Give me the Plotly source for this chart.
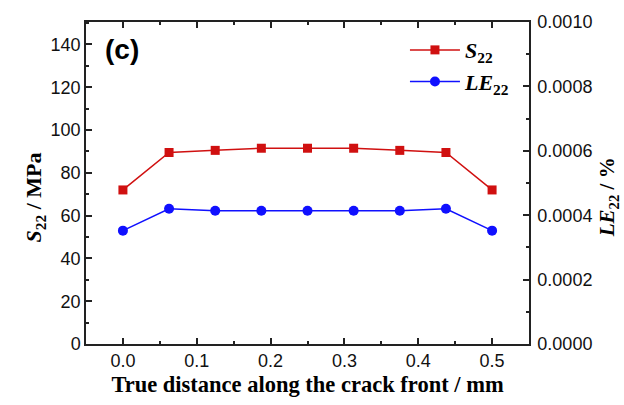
import plotly.graph_objects as go

# Distance along the crack front (mm)
distance = [0.0, 0.0625, 0.125, 0.1875, 0.25, 0.3125, 0.375, 0.4375, 0.5]
# Opening stress S22 (MPa)
s22 = [72, 89.5, 90.5, 91.5, 91.5, 91.5, 90.5, 89.5, 72]
# Logarithmic strain LE22 (%)
le22 = [0.000352, 0.000420, 0.000414, 0.000414, 0.000414, 0.000414, 0.000414, 0.000420, 0.000352]

x_ticks = [0.0, 0.1, 0.2, 0.3, 0.4, 0.5]
y1_ticks = [0, 20, 40, 60, 80, 100, 120, 140]
y2_ticks = [0.0, 0.0002, 0.0004, 0.0006, 0.0008, 0.0010]

RED = "#d01010"
BLUE = "#1010ff"
AX = "#222222"
TICKFONT = dict(family="Liberation Sans, Arial", size=18, color="#111111")
SERIF = "Liberation Serif, Times New Roman"

fig = go.Figure()
fig.add_trace(go.Scatter(
    x=distance, y=s22, mode="lines+markers",
    name="<b><i>S</i><sub>22</sub></b>",
    line=dict(color=RED, width=1.5),
    marker=dict(symbol="square", size=9, color=RED),
    yaxis="y",
))
fig.add_trace(go.Scatter(
    x=distance, y=le22, mode="lines+markers",
    name="<b><i>LE</i><sub>22</sub></b>",
    line=dict(color=BLUE, width=1.5),
    marker=dict(symbol="circle", size=10, color=BLUE),
    yaxis="y2",
))

common = dict(showline=True, linecolor=AX, linewidth=1.5, ticks="inside",
              tickcolor=AX, tickwidth=1.5, ticklen=6, showgrid=False,
              zeroline=False, tickfont=TICKFONT)

fig.update_layout(
    width=624, height=405,
    margin=dict(l=86, r=95, t=18, b=60),
    paper_bgcolor="white", plot_bgcolor="white",
    showlegend=True,
    legend=dict(x=0.72, y=0.978, xanchor="left", yanchor="top",
                font=dict(family=SERIF, size=22, color="#000000"),
                bgcolor="rgba(0,0,0,0)", itemwidth=50),
    xaxis=dict(range=[-0.05, 0.55], tickvals=x_ticks,
               ticktext=[f"{v:.1f}" for v in x_ticks], mirror="ticks",
               minor=dict(dtick=0.05, ticks="inside", ticklen=3, tickcolor=AX, tickwidth=1.5),
               title=dict(text="<b>True distance along the crack front / mm</b>",
                          font=dict(family=SERIF, size=22.5, color="#000000"), standoff=6),
               **common),
    yaxis=dict(range=[0, 150.5], tickvals=y1_ticks,
               minor=dict(dtick=10, ticks="inside", ticklen=3, tickcolor=AX, tickwidth=1.5),
               **common),
    yaxis2=dict(range=[0, 0.001], overlaying="y", side="right", tickvals=y2_ticks,
                ticktext=[f"{v:.4f}" for v in y2_ticks], ticklabelstandoff=3,
                minor=dict(dtick=0.0001, ticks="inside", ticklen=3, tickcolor=AX, tickwidth=1.5),
                **common),
)

fig.add_annotation(text="<b><i>S</i><sub>22</sub> / MPa</b>", xref="paper", yref="paper",
                   x=-0.113, y=0.455, xanchor="center", yanchor="middle", textangle=-90,
                   showarrow=False, font=dict(family=SERIF, size=22, color="#000000"))
fig.add_annotation(text="<b><i>LE</i><sub>22</sub> / %</b>", xref="paper", yref="paper",
                   x=1.18, y=0.455, xanchor="center", yanchor="middle", textangle=-90,
                   showarrow=False, font=dict(family=SERIF, size=21, color="#000000"))
fig.add_annotation(text="<b>(c)</b>", xref="paper", yref="paper",
                   x=0.038, y=0.915, xanchor="left", yanchor="middle",
                   showarrow=False, font=dict(family="Liberation Sans, Arial", size=28, color="#000000"))

fig.write_html("out.html")
